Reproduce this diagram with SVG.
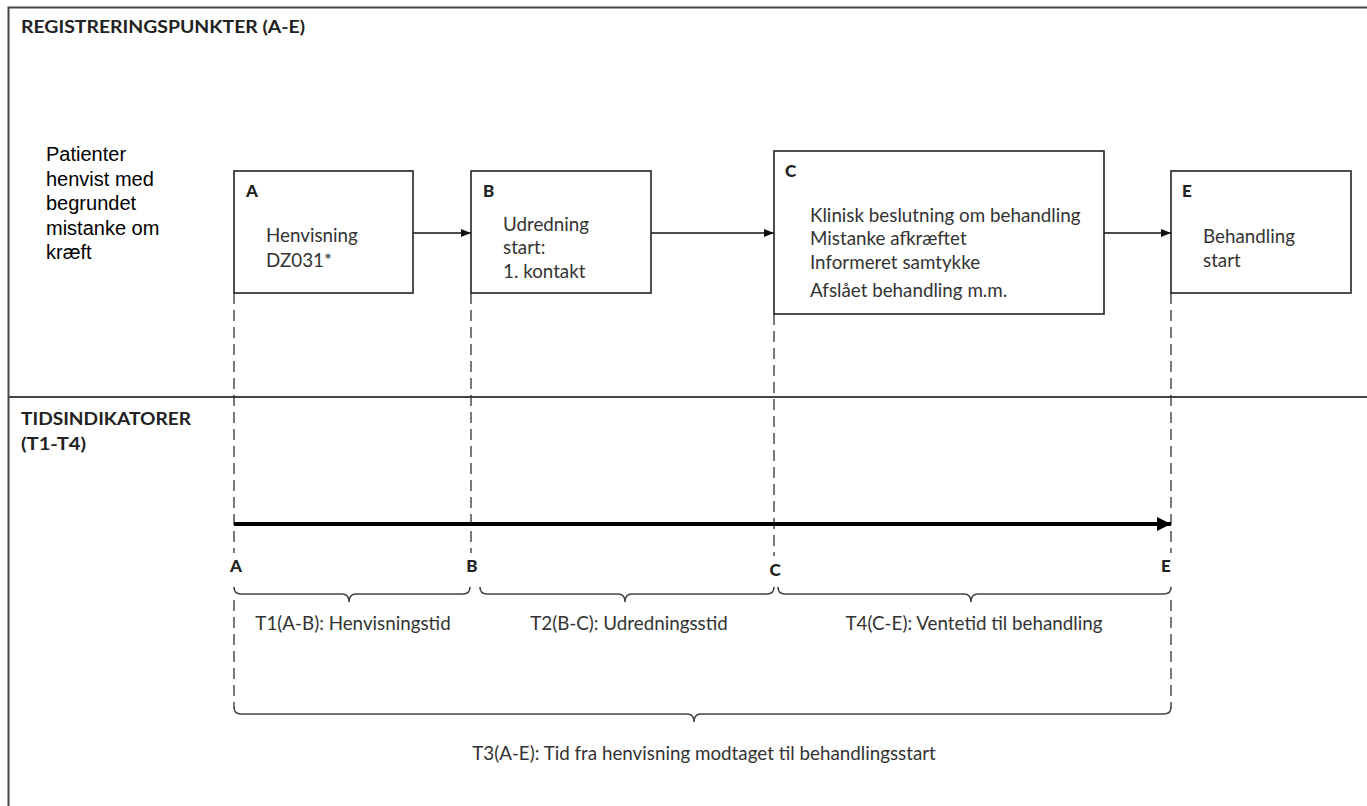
<svg xmlns="http://www.w3.org/2000/svg" width="1367" height="806" viewBox="0 0 1367 806">
<style>
.frame{fill:none;stroke:#444;stroke-width:2}
.box{fill:#fff;stroke:#222;stroke-width:1.6}
.dash{fill:none;stroke:#333;stroke-width:1.3;stroke-dasharray:11 6}
.brace{fill:none;stroke:#444;stroke-width:1.6}
.conn{fill:none;stroke:#111;stroke-width:1.3}
.title{font-family:Lato,"Open Sans",sans-serif;font-weight:bold;font-size:16.5px;fill:#222}
.lbl{font-family:Lato,"Open Sans",sans-serif;font-weight:900;font-size:17px;fill:#222}
.txt{font-family:Lato,"Open Sans",sans-serif;font-size:18.8px;fill:#333}
.pat{font-family:"Liberation Sans",Arial,sans-serif;font-size:20px;fill:#000}
</style>
<defs>
<marker id="ah" markerWidth="10" markerHeight="8" refX="10" refY="4" orient="auto" markerUnits="userSpaceOnUse">
<path d="M0,0 L10,4 L0,8 Z" fill="#111"/>
</marker>
<marker id="ahbig" markerWidth="14" markerHeight="14" refX="14" refY="7" orient="auto" markerUnits="userSpaceOnUse">
<path d="M0,0 L14,7 L0,14 Z" fill="#000"/>
</marker>
</defs>
<rect width="1367" height="806" fill="#fff"/>
<path class="frame" d="M8.5,806 V7.5 H1367"/>
<path class="frame" d="M8.5,397 H1367"/>
<text class="title" x="21" y="33" textLength="284" lengthAdjust="spacingAndGlyphs">REGISTRERINGSPUNKTER (A-E)</text>
<text class="title" x="21" y="425" textLength="170" lengthAdjust="spacingAndGlyphs">TIDSINDIKATORER</text>
<text class="title" x="21" y="450" textLength="65" lengthAdjust="spacingAndGlyphs">(T1-T4)</text>
<g id="patienter">
<text class="pat" x="46" y="161">Patienter</text>
<text class="pat" x="46" y="186">henvist med</text>
<text class="pat" x="46" y="210">begrundet</text>
<text class="pat" x="46" y="235">mistanke om</text>
<text class="pat" x="46" y="259">kræft</text>
</g>
<g id="connectors">
<line class="conn" x1="413" y1="233" x2="471" y2="233" marker-end="url(#ah)"/>
<line class="conn" x1="651" y1="233" x2="774" y2="233" marker-end="url(#ah)"/>
<line class="conn" x1="1104" y1="233" x2="1171" y2="233" marker-end="url(#ah)"/>
<line class="dash" x1="234" y1="293" x2="234" y2="553"/>
<line class="dash" x1="234" y1="600" x2="234" y2="708"/>
<line class="dash" x1="471" y1="293" x2="471" y2="553"/>
<line class="dash" x1="774" y1="314" x2="774" y2="556"/>
<line class="dash" x1="1171" y1="293" x2="1171" y2="553"/>
<line class="dash" x1="1171" y1="600" x2="1171" y2="708"/>
<line x1="234" y1="524" x2="1171" y2="524" stroke="#000" stroke-width="4" marker-end="url(#ahbig)"/>
</g>
<g id="nodeA">
<rect class="box" x="234" y="171" width="179" height="122"/>
<text class="lbl" x="246" y="197">A</text>
<text class="txt" x="266" y="242">Henvisning</text>
<text class="txt" x="266" y="267">DZ031*</text>
</g>
<g id="nodeB">
<rect class="box" x="471" y="171" width="180" height="122"/>
<text class="lbl" x="483" y="197">B</text>
<text class="txt" x="503" y="231">Udredning</text>
<text class="txt" x="503" y="254">start:</text>
<text class="txt" x="503" y="278">1. kontakt</text>
</g>
<g id="nodeC">
<rect class="box" x="774" y="151" width="330" height="163"/>
<text class="lbl" x="785" y="177">C</text>
<text class="txt" x="810" y="222">Klinisk beslutning om behandling</text>
<text class="txt" x="810" y="245">Mistanke afkræftet</text>
<text class="txt" x="810" y="269">Informeret samtykke</text>
<text class="txt" x="810" y="297">Afslået behandling m.m.</text>
</g>
<g id="nodeE">
<rect class="box" x="1171" y="171" width="180" height="122"/>
<text class="lbl" x="1182" y="197">E</text>
<text class="txt" x="1203" y="243">Behandling</text>
<text class="txt" x="1203" y="267">start</text>
</g>
<g id="timeline-labels">
<text class="lbl" x="236" y="572" text-anchor="middle">A</text>
<text class="lbl" x="472" y="572" text-anchor="middle">B</text>
<text class="lbl" x="775" y="576" text-anchor="middle">C</text>
<text class="lbl" x="1166" y="572" text-anchor="middle">E</text>
</g>
<g id="T1">
<path class="brace" d="M234,587 Q234,594 241,594 L342,594 Q349,594 349,602 Q349,594 356,594 L463,594 Q470,594 470,587"/>
<text class="txt" x="353" y="630" text-anchor="middle">T1(A-B): Henvisningstid</text>
</g>
<g id="T2">
<path class="brace" d="M480,587 Q480,594 487,594 L618,594 Q625,594 625,602 Q625,594 632,594 L767,594 Q774,594 774,587"/>
<text class="txt" x="629" y="630" text-anchor="middle">T2(B-C): Udredningsstid</text>
</g>
<g id="T4">
<path class="brace" d="M778,587 Q778,594 785,594 L964,594 Q971,594 971,602 Q971,594 978,594 L1164,594 Q1171,594 1171,587"/>
<text class="txt" x="974" y="630" text-anchor="middle">T4(C-E): Ventetid til behandling</text>
</g>
<g id="T3">
<path class="brace" d="M234,707 Q234,714 241,714 L687,714 Q694,714 694,722 Q694,714 701,714 L1164,714 Q1171,714 1171,707"/>
<text class="txt" x="704" y="760" text-anchor="middle">T3(A-E): Tid fra henvisning modtaget til behandlingsstart</text>
</g>
</svg>
